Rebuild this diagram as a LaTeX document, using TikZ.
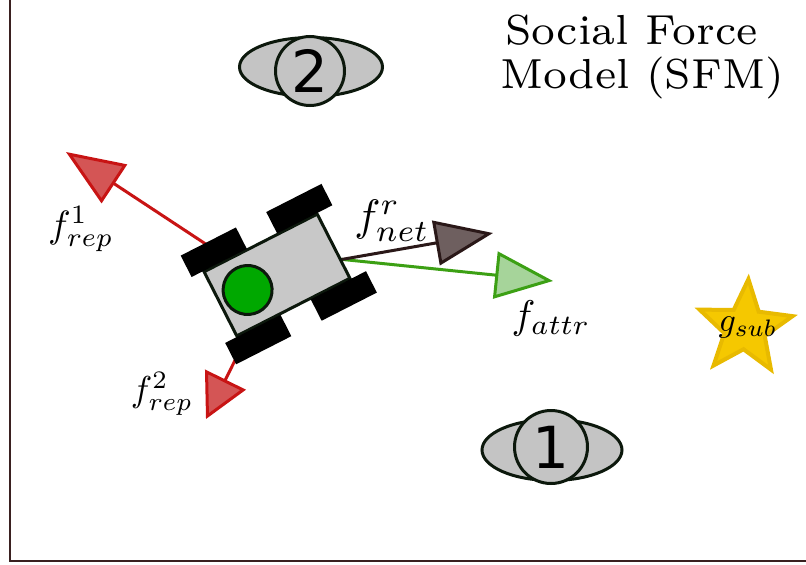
\RequirePackage{fix-cm}
\documentclass[tikz,border=0pt]{standalone}
\usepackage{fontspec}
\newfontfamily\numfont{DejaVu Sans}
\usetikzlibrary{arrows.meta,shapes.geometric,backgrounds}

\definecolor{repline}{HTML}{C81414}
\definecolor{repfill}{HTML}{D45555}
\definecolor{netline}{HTML}{2A1818}
\definecolor{netfill}{HTML}{6E5F5F}
\definecolor{attrline}{HTML}{3CA014}
\definecolor{attrfill}{HTML}{A6D49A}
\definecolor{obsfill}{HTML}{C4C4C4}
\definecolor{outline}{HTML}{0C180C}
\definecolor{bodyfill}{HTML}{C8C8C8}
\definecolor{seatgreen}{HTML}{00A800}
\definecolor{goldfill}{HTML}{F5C800}
\definecolor{goldline}{HTML}{E8BA00}
\definecolor{framecol}{HTML}{3A2020}

\tikzset{
  force/.style={line width=3pt},
  reparrow/.style={force, draw=repline, -{Triangle[length=58pt,width=46pt,fill=repfill]}},
  repshort/.style={force, draw=repline, -{Triangle[length=44pt,width=45pt,fill=repfill]}},
  netarrow/.style={force, draw=netline, -{Triangle[length=58pt,width=45pt,fill=netfill]}},
  attrarrow/.style={force, draw=attrline, -{Triangle[length=58pt,width=47pt,fill=attrfill]}},
  obsbody/.style={ellipse, draw=outline, fill=obsfill, line width=3pt, inner sep=0pt},
  obshead/.style={circle, draw=outline, fill=obsfill, line width=3pt, inner sep=0pt,
    font=\numfont\fontsize{58}{58}\selectfont},
  chassis/.style={rectangle, draw=outline, fill=bodyfill, line width=3pt,
    minimum width=127pt, minimum height=72pt, inner sep=0pt},
  wheel/.style={rectangle, fill=black, minimum width=62pt, minimum height=24pt, inner sep=0pt},
  seat/.style={circle, draw=outline, fill=seatgreen, line width=3pt, minimum size=49pt, inner sep=0pt},
  goalstar/.style={star, star points=5, star point ratio=2.3, minimum size=98pt, inner sep=0pt,
    fill=goldfill, draw=goldline, line width=4pt},
  titletext/.style={inner sep=0pt, font=\fontsize{7}{7.6}\selectfont, scale=6.0, transform shape},
  mathlabel/.style={inner sep=0pt, font=\fontsize{10}{12}\selectfont, scale=#1, transform shape},
  mathlabel/.default=4.0,
}

\begin{document}
\begin{tikzpicture}[x=1pt, y=-1pt]
\useasboundingbox (0,0) rectangle (806,565);

% frame
\draw[framecol, line width=2pt] (10,0) -- (10,561) -- (806,561);

% title
\node[titletext, anchor=base west] (title1) at (504,44) {Social Force};
\node[titletext, anchor=base west] (title2) at (499,88) {Model (SFM)};

% obstacles
\node[obsbody, minimum width=143pt, minimum height=59pt] (obs2body) at (311,67) {};
\node[obshead, minimum size=69pt] (obs2) at (310,71) {2};
\node[obsbody, minimum width=140pt, minimum height=61pt] (obs1body) at (552,450) {};
\node[obshead, minimum size=73pt] (obs1) at (551,447) {1};

% goal
\node[goalstar, rotate=-4] (goal) at (745,328) {};
\node[mathlabel=3.4] (goallabel) at (748,327) {$g_{sub}$};

% robot
\begin{scope}[shift={(277,275)}, rotate=27, transform shape]
  \node[chassis] (chassis) at (0,0) {};
  \node[wheel] (wheelA) at (-46,-49) {};
  \node[wheel] (wheelB) at (50,-49) {};
  \node[wheel] (wheelC) at (50,49) {};
  \node[wheel] (wheelD) at (-46,49) {};
  \node[seat] (seat) at (-33,0) {};
  \coordinate (rep1start) at (-29,-24);
  \coordinate (rep2start) at (-40,30);
  \coordinate (netstart) at (24,3);
  \coordinate (attrstart) at (30,-7);
\end{scope}

% force tips
\coordinate (rep1tip) at (66,152);
\coordinate (rep2tip) at (206,419);
\coordinate (nettip) at (493,233);
\coordinate (attrtip) at (553,281);

\begin{scope}[on background layer]
  \draw[reparrow] (rep1start) -- (rep1tip);
  \draw[repshort] (rep2start) -- (rep2tip);
  \draw[attrarrow] (attrstart) -- (attrtip);
  \draw[netarrow] (netstart) -- (nettip);
\end{scope}

% force labels
\node[mathlabel=4.4] (netlabel) at (392,221) {$f^{r}_{net}$};
\node[mathlabel=4.0] (attrlabel) at (551,318) {$f_{attr}$};
\node[mathlabel=3.8] (rep1label) at (81,229) {$f^{1}_{rep}$};
\node[mathlabel=3.6] (rep2label) at (162,394) {$f^{2}_{rep}$};
\end{tikzpicture}
\end{document}
